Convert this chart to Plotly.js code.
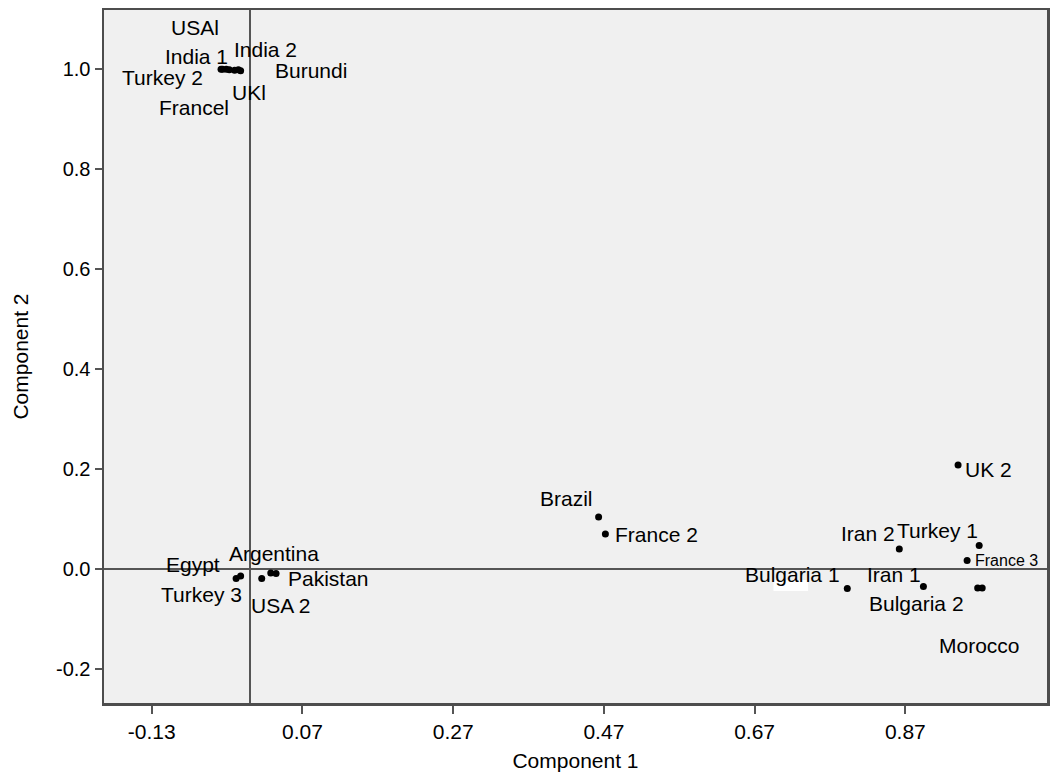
<!DOCTYPE html>
<html><head><meta charset="utf-8">
<script src="https://cdn.plot.ly/plotly-3.0.1.min.js"></script>
<style>html,body{margin:0;padding:0;background:#fff}#chart{width:1054px;height:773px}</style>
</head><body><div id="chart"></div>
<script>
// ---- data ----
const names = ['Turkey 2','USAl','India 1','Francel','UKl','India 2','Burundi',
  'Turkey 3','Egypt','USA 2','Argentina','Pakistan',
  'Brazil','France 2',
  'UK 2','Iran 2','Turkey 1','France 3','Bulgaria 1','Iran 1','Bulgaria 2','Morocco'];
const comp1 = [-0.038,-0.036,-0.031,-0.027,-0.020,-0.015,-0.012,
  -0.018,-0.012,0.016,0.028,0.035,
  0.463,0.472,
  0.940,0.862,0.968,0.952,0.793,0.894,0.966,0.972];
const comp2 = [1.000,1.000,1.000,0.999,0.998,0.999,0.997,
  -0.019,-0.014,-0.019,-0.008,-0.009,
  0.104,0.070,
  0.208,0.040,0.047,0.017,-0.039,-0.035,-0.038,-0.038];
const xTickVals = [-0.13,0.07,0.27,0.47,0.67,0.87];
const xTickText = ['-0.13','0.07','0.27','0.47','0.67','0.87'];
const yTickVals = [-0.2,0.0,0.2,0.4,0.6,0.8,1.0];
const yTickText = ['-0.2','0.0','0.2','0.4','0.6','0.8','1.0'];

// ---- label placement (pixel offsets from each point; styling only) ----
const labelStyle = {
  'Turkey 2':[-59,-8,'center',21], 'USAl':[-28,42,'center',21], 'India 1':[-30,13,'center',21],
  'Francel':[-35,-38,'center',21], 'UKl':[14,-22,'center',21], 'India 2':[27,20,'center',21],
  'Burundi':[70,0,'center',21],
  'Turkey 3':[-35,-16,'center',21], 'Egypt':[-48,12,'center',21], 'USA 2':[19,-27,'center',21],
  'Argentina':[3,20,'center',21], 'Pakistan':[52,-5,'center',21],
  'Brazil':[-32,19,'center',21], 'France 2':[51,0,'center',21],
  'UK 2':[5,-4,'left',21], 'Iran 2':[-31,16,'center',21], 'Turkey 1':[-42,15,'center',21],
  'France 3':[6,0,'left',16], 'Bulgaria 1':[-55,14,'center',21], 'Iran 1':[-29,12,'center',21],
  'Bulgaria 2':[-61,-15,'center',21], 'Morocco':[-3,-57,'center',21]
};

const sans = 'Liberation Sans, Arial, sans-serif';

const annotations = names.map((n,i)=>{
  const s = labelStyle[n];
  return {x: comp1[i], y: comp2[i], xref:'x', yref:'y', text: n, showarrow:false,
    xshift: s[0], yshift: s[1], xanchor: s[2], yanchor:'middle',
    font:{family: sans, size: s[3], color:'#000'}};
});

const trace = {x: comp1, y: comp2, text: names, type:'scatter', mode:'markers',
  marker:{color:'#000', size:7}, hoverinfo:'text', cliponaxis:false};

const layout = {
  width:1054, height:773,
  margin:{l:104, r:7, t:10, b:70},
  paper_bgcolor:'#fff', plot_bgcolor:'#f0f0f0',
  showlegend:false,
  xaxis:{range:[-0.1933,1.058], tickmode:'array', tickvals:xTickVals, ticktext:xTickText,
    showgrid:false, zeroline:true, zerolinecolor:'#555', zerolinewidth:2,
    showline:true, mirror:true, linecolor:'#4d4d4d', linewidth:2.5,
    ticks:'outside', ticklen:8, tickwidth:2, tickcolor:'#555',
    tickfont:{family: sans, size:21, color:'#000'},
    title:{text:'Component 1', font:{family: sans, size:21, color:'#000'}, standoff:12},
    automargin:false},
  yaxis:{range:[-0.268,1.1187], tickmode:'array', tickvals:yTickVals, ticktext:yTickText,
    showgrid:false, zeroline:true, zerolinecolor:'#555', zerolinewidth:2,
    showline:true, mirror:true, linecolor:'#4d4d4d', linewidth:2.5,
    ticks:'outside', ticklen:7, tickwidth:2, tickcolor:'#555',
    tickfont:{family: sans, size:20, color:'#000'},
    title:{text:'Component 2', font:{family: sans, size:21, color:'#000'}, standoff:22},
    automargin:false},
  annotations: annotations,
  shapes:[{type:'rect', xref:'x', yref:'y', x0:0.695, x1:0.741, y0:-0.044, y1:-0.022,
    fillcolor:'#fff', line:{width:0}, layer:'below'}]
};

Plotly.newPlot('chart',[trace],layout,{displayModeBar:false, staticPlot:true});
</script></body></html>
